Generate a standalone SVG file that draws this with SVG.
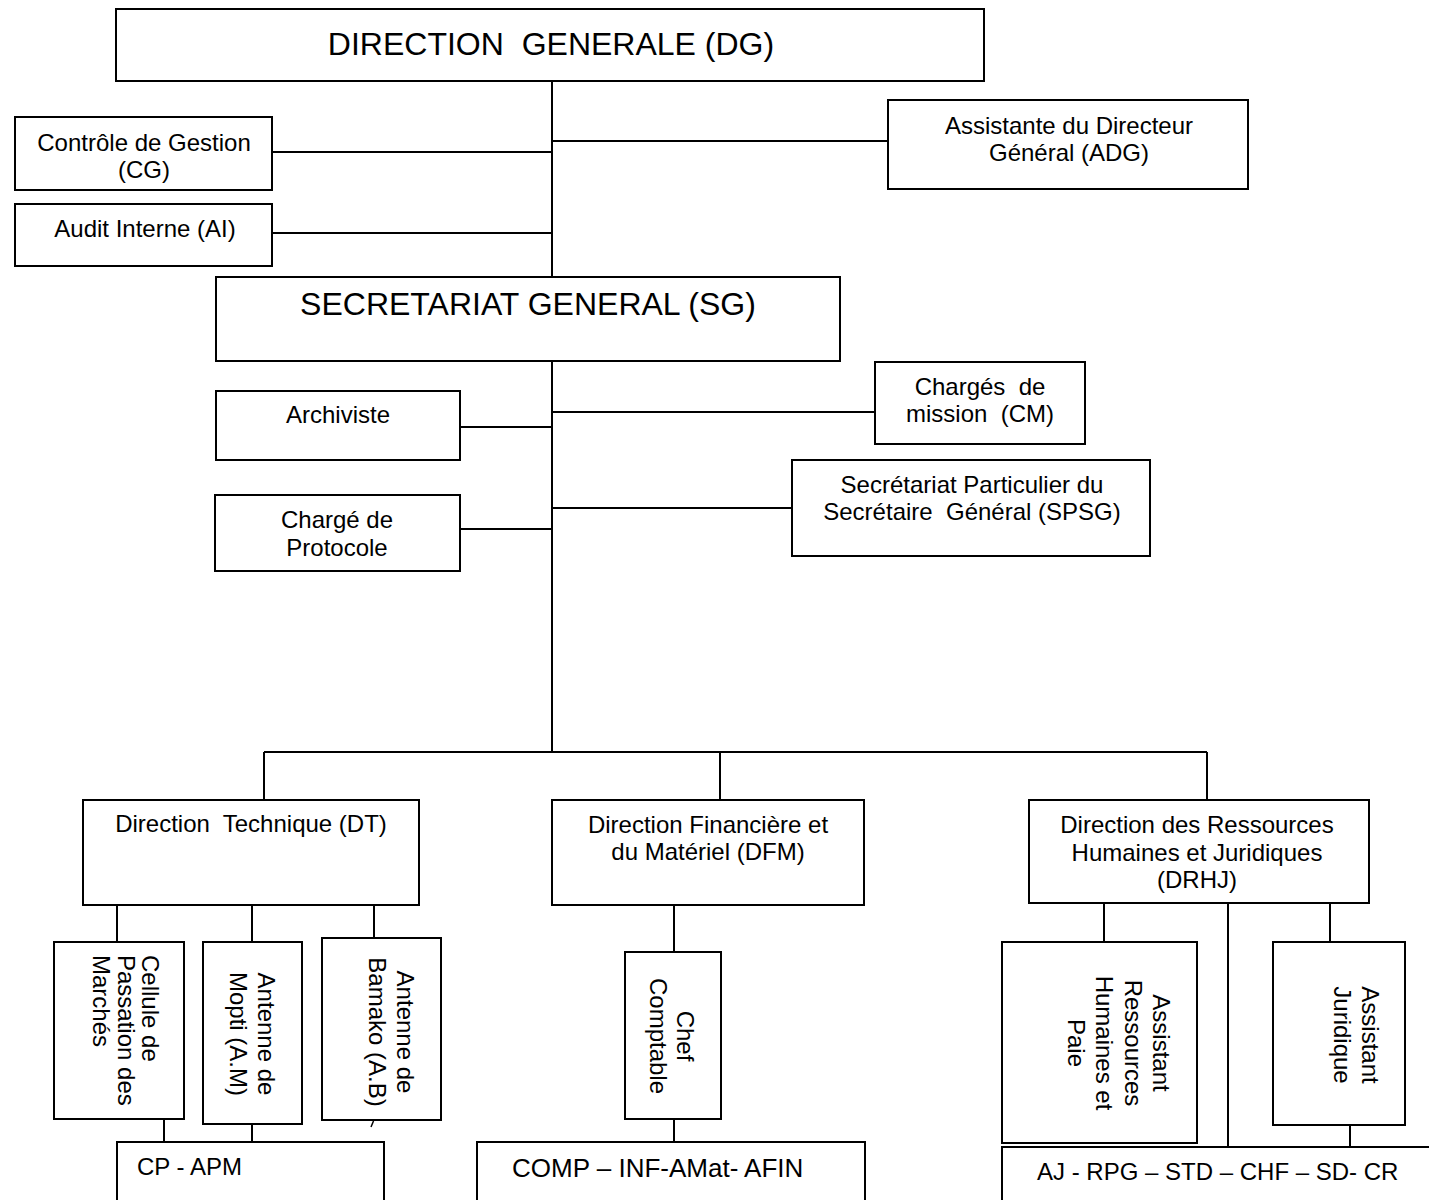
<svg xmlns="http://www.w3.org/2000/svg" width="1429" height="1200" viewBox="0 0 1429 1200">
<style>
rect{fill:#fff;stroke:#000;stroke-width:2}
#connectors line{stroke:#000;stroke-width:2}
text{font-family:"Liberation Sans",Arial,sans-serif;font-size:24px;fill:#000;white-space:pre}
.c{text-anchor:middle}
.big{font-size:32px}
</style>
<rect x="0" y="0" width="1429" height="1200" style="stroke:none"/>
<g id="connectors">
<line x1="552" y1="81" x2="552" y2="277"/>
<line x1="272" y1="152" x2="552" y2="152"/>
<line x1="552" y1="141" x2="888" y2="141"/>
<line x1="272" y1="233" x2="552" y2="233"/>
<line x1="552" y1="361" x2="552" y2="752"/>
<line x1="460" y1="427" x2="552" y2="427"/>
<line x1="552" y1="412" x2="875" y2="412"/>
<line x1="460" y1="529" x2="552" y2="529"/>
<line x1="552" y1="508" x2="792" y2="508"/>
<line x1="264" y1="752" x2="1207" y2="752"/>
<line x1="264" y1="752" x2="264" y2="800"/>
<line x1="720" y1="752" x2="720" y2="800"/>
<line x1="1207" y1="752" x2="1207" y2="800"/>
<line x1="117" y1="905" x2="117" y2="942"/>
<line x1="252" y1="905" x2="252" y2="942"/>
<line x1="374" y1="905" x2="374" y2="938"/>
<line x1="164" y1="1119" x2="164" y2="1142"/>
<line x1="252" y1="1124" x2="252" y2="1142"/>
<line x1="674" y1="905" x2="674" y2="952"/>
<line x1="674" y1="1119" x2="674" y2="1142"/>
<line x1="1104" y1="903" x2="1104" y2="942"/>
<line x1="1228" y1="903" x2="1228" y2="1147"/>
<line x1="1330" y1="903" x2="1330" y2="942"/>
<line x1="1350" y1="1125" x2="1350" y2="1147"/>
</g>
<g id="dg"><rect x="116" y="9" width="868" height="72"/><text class="c big" x="551" y="55">DIRECTION  GENERALE (DG)</text></g>
<g id="cg"><rect x="15" y="117" width="257" height="73"/><text class="c" x="144" y="151">Contrôle de Gestion</text><text class="c" x="144" y="178">(CG)</text></g>
<g id="ai"><rect x="15" y="204" width="257" height="62"/><text class="c" x="145" y="237">Audit Interne (AI)</text></g>
<g id="adg"><rect x="888" y="100" width="360" height="89"/><text class="c" x="1069" y="134">Assistante du Directeur</text><text class="c" x="1069" y="161">Général (ADG)</text></g>
<g id="sg"><rect x="216" y="277" width="624" height="84"/><text class="c big" x="528" y="315">SECRETARIAT GENERAL (SG)</text></g>
<g id="archiviste"><rect x="216" y="391" width="244" height="69"/><text class="c" x="338" y="423">Archiviste</text></g>
<g id="cm"><rect x="875" y="362" width="210" height="82"/><text class="c" x="980" y="395">Chargés  de</text><text class="c" x="980" y="422">mission  (CM)</text></g>
<g id="protocole"><rect x="215" y="495" width="245" height="76"/><text class="c" x="337" y="528">Chargé de</text><text class="c" x="337" y="556">Protocole</text></g>
<g id="spsg"><rect x="792" y="460" width="358" height="96"/><text class="c" x="972" y="493">Secrétariat Particulier du</text><text class="c" x="972" y="520">Secrétaire  Général (SPSG)</text></g>
<g id="dt"><rect x="83" y="800" width="336" height="105"/><text class="c" x="251" y="832">Direction  Technique (DT)</text></g>
<g id="dfm"><rect x="552" y="800" width="312" height="105"/><text class="c" x="708" y="833">Direction Financière et</text><text class="c" x="708" y="860">du Matériel (DFM)</text></g>
<g id="drhj"><rect x="1029" y="800" width="340" height="103"/><text class="c" x="1197" y="833">Direction des Ressources</text><text class="c" x="1197" y="861">Humaines et Juridiques</text><text class="c" x="1197" y="888">(DRHJ)</text></g>
<g id="cellule"><rect x="54" y="942" width="130" height="177"/><g transform="translate(142,955) rotate(90)" style="font-size:21px"><text x="0" y="0">Cellule de</text><text x="0" y="24.5">Passation des</text><text x="0" y="49">Marchés</text></g></g>
<g id="mopti"><rect x="203" y="942" width="99" height="182"/><g transform="translate(258,1034) rotate(90)"><text class="c" x="0" y="0">Antenne de</text><text class="c" x="0" y="27.6">Mopti (A.M)</text></g></g>
<g id="bamako"><rect x="322" y="938" width="119" height="182"/><g transform="translate(397,1032) rotate(90)"><text class="c" x="0" y="0">Antenne de</text><text class="c" x="0" y="27.6">Bamako (A.B)</text></g><line x1="373.5" y1="1121" x2="371" y2="1127" style="stroke:#000;stroke-width:1.5"/></g>
<g id="chef"><rect x="625" y="952" width="96" height="167"/><g transform="translate(677,1036) rotate(90)"><text class="c" x="0" y="0">Chef</text><text class="c" x="0" y="27">Comptable</text></g></g>
<g id="arh"><rect x="1002" y="942" width="195" height="201"/><g transform="translate(1153,1043) rotate(90)"><text class="c" x="0" y="0">Assistant</text><text class="c" x="0" y="28.5">Ressources</text><text class="c" x="0" y="57">Humaines et</text><text class="c" x="0" y="85.5">Paie</text></g></g>
<g id="ajur"><rect x="1273" y="942" width="132" height="183"/><g transform="translate(1362,1035) rotate(90)"><text class="c" x="0" y="0">Assistant</text><text class="c" x="0" y="28.5">Juridique</text></g></g>
<g id="cp"><rect x="117" y="1142" width="267" height="80"/><text x="137" y="1175">CP - APM</text></g>
<g id="comp"><rect x="477" y="1142" width="388" height="80"/><text x="512" y="1177" style="font-size:26px">COMP – INF-AMat- AFIN</text></g>
<g id="aj"><rect x="1002" y="1147" width="440" height="80"/><text x="1037" y="1180">AJ - RPG – STD – CHF – SD- CR</text></g>
</svg>
